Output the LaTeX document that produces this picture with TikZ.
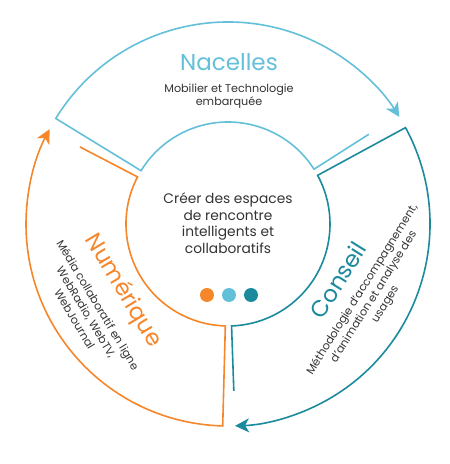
\documentclass[tikz,border=0pt]{standalone}
\usepackage{fontspec}
\setmainfont{Poppins}
\usetikzlibrary{arrows.meta,calc}
\definecolor{nblue}{HTML}{63C0D8}
\definecolor{cteal}{HTML}{1B8A9C}
\definecolor{norange}{HTML}{F5862A}
\definecolor{txtgray}{HTML}{333333}
\begin{document}
\begin{tikzpicture}[x=1pt,y=1pt,
  ring/.style={line width=1.6pt, line join=miter, -{Stealth[length=14pt,width=14pt,inset=4pt]}},
  ttl/.style={font=\fontsize{23}{27}\selectfont, inner sep=0pt},
  subtxt/.style={font=\fontsize{11.2}{13.6}\selectfont, text=txtgray, align=center, inner sep=0pt},
  midtxt/.style={font=\fontsize{13.8}{16.5}\selectfont, text=txtgray, align=center, inner sep=0pt},
  dot/.style={circle, minimum size=14pt, inner sep=0pt}]
\useasboundingbox (0,0) rectangle (450,464);
\coordinate (C) at (228,240);
% Nacelles
\draw[ring, nblue] ($(C)+(32.5:167)$) -- ($(C)+(32.5:102)$)
  arc[start angle=32.5, end angle=148.5, radius=102]
  -- ($(C)+(148.5:202)$)
  arc[start angle=148.5, end angle=32, radius=202];
% Conseil
\draw[ring, cteal] ($(C)+(-88:167)$) -- ($(C)+(-88:102)$)
  arc[start angle=-88, end angle=28.5, radius=102]
  -- ($(C)+(28.5:202)$)
  arc[start angle=28.5, end angle=-88, radius=202];
% Numerique
\draw[ring, norange] ($(C)+(152.5:167)$) -- ($(C)+(152.5:102)$)
  arc[start angle=152.5, end angle=268.5, radius=102]
  -- ($(C)+(268.5:202)$)
  arc[start angle=268.5, end angle=152, radius=202];
% dots
\node[dot, fill=norange] (d1) at (207,169) {};
\node[dot, fill=nblue] (d2) at (229,169) {};
\node[dot, fill=cteal] (d3) at (251,169) {};
% texts
\node[ttl, text=nblue] (tn) at (229,402) {Nacelles};
\node[subtxt] (sn) at (229,368) {Mobilier et Technologie\\embarquée};
\node[midtxt] (ct) at (228,241) {Créer des espaces\\de rencontre\\intelligents et\\collaboratifs};
\node[ttl, text=cteal, rotate=58] (tc) at (338,184) {Conseil};
\node[subtxt, rotate=58] (sc) at (374,167) {Méthodologie d'accompagnement,\\d'animation et analyse des\\usages};
\node[ttl, text=norange, rotate=-59] (tq) at (123,173) {Numérique};
\node[subtxt, rotate=-59] (sq) at (86.5,152) {Média collaboratif en ligne\\WebRadio, WebTV,\\WebJournal};
\end{tikzpicture}
\end{document}
